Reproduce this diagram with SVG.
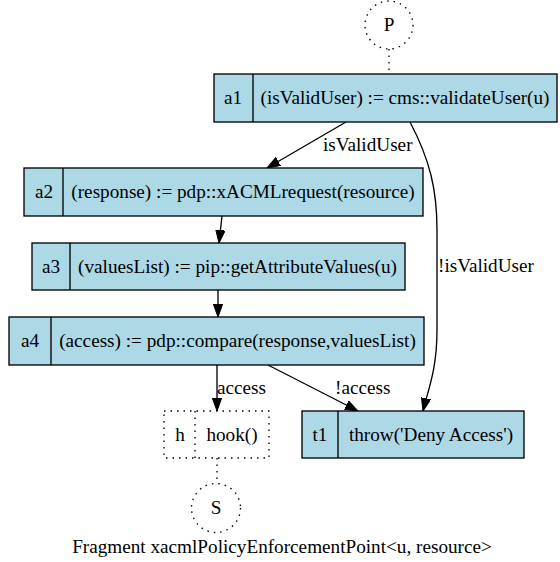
<svg xmlns="http://www.w3.org/2000/svg" width="560" height="562" viewBox="0 0 560 562">
<style>
text{font-family:"Liberation Serif","Times New Roman",serif;font-size:19.2px;fill:#000}
.m{text-anchor:middle}
.box{fill:#add8e6;stroke:#000;stroke-width:1.33}
.dot{fill:none;stroke:#000;stroke-width:1.33;stroke-dasharray:1.5,5}
.e{fill:none;stroke:#000;stroke-width:1.33}
</style>
<defs>
<marker id="ah" markerUnits="userSpaceOnUse" markerWidth="14" markerHeight="10" refX="13" refY="4.7" orient="auto">
<path d="M0,0 L13,4.7 L0,9.4 z" fill="#000" stroke="#000" stroke-width="1"/>
</marker>
</defs>
<g id="connectors">
<line class="dot" x1="389" y1="49" x2="389" y2="74"/>
<line class="dot" x1="217" y1="458" x2="217" y2="483"/>
<line class="e" x1="346" y1="122" x2="267" y2="168" marker-end="url(#ah)"/>
<text x="323" y="151">isValidUser</text>
<path class="e" d="M410,122 C430,160 437,190 437,230 L437,330 C437,370 428,390 423,411" marker-end="url(#ah)"/>
<text x="438" y="272">!isValidUser</text>
<line class="e" x1="222" y1="216" x2="219" y2="243" marker-end="url(#ah)"/>
<line class="e" x1="218" y1="290" x2="218" y2="317" marker-end="url(#ah)"/>
<line class="e" x1="217" y1="365" x2="217" y2="411" marker-end="url(#ah)"/>
<text x="217" y="394">access</text>
<line class="e" x1="268" y1="365" x2="358" y2="411" marker-end="url(#ah)"/>
<text x="335" y="394">!access</text>
</g>
<g id="P">
<circle class="dot" cx="389" cy="25" r="24"/>
<text class="m" x="389" y="31">P</text>
</g>
<g id="a1">
<rect class="box" x="214" y="74" width="343" height="48"/>
<line class="e" x1="253" y1="74" x2="253" y2="122"/>
<text class="m" x="233" y="104">a1</text>
<text class="m" x="405" y="104">(isValidUser) := cms::validateUser(u)</text>
</g>
<g id="a2">
<rect class="box" x="24" y="168" width="399" height="48"/>
<line class="e" x1="63" y1="168" x2="63" y2="216"/>
<text class="m" x="44" y="198">a2</text>
<text class="m" x="243" y="198">(response) := pdp::xACMLrequest(resource)</text>
</g>
<g id="a3">
<rect class="box" x="32" y="243" width="373" height="47"/>
<line class="e" x1="70" y1="243" x2="70" y2="290"/>
<text class="m" x="51" y="273">a3</text>
<text class="m" x="237.5" y="273">(valuesList) := pip::getAttributeValues(u)</text>
</g>
<g id="a4">
<rect class="box" x="9" y="317" width="415" height="48"/>
<line class="e" x1="51" y1="317" x2="51" y2="365"/>
<text class="m" x="30" y="347">a4</text>
<text class="m" x="237.5" y="347">(access) := pdp::compare(response,valuesList)</text>
</g>
<g id="h">
<rect class="dot" x="164" y="411" width="105" height="47"/>
<line class="dot" x1="195" y1="411" x2="195" y2="458"/>
<text class="m" x="180" y="441">h</text>
<text class="m" x="232" y="441">hook()</text>
</g>
<g id="t1">
<rect class="box" x="302" y="411" width="222" height="47"/>
<line class="e" x1="338" y1="411" x2="338" y2="458"/>
<text class="m" x="320" y="441">t1</text>
<text class="m" x="431" y="441">throw('Deny Access')</text>
</g>
<g id="S">
<circle class="dot" cx="216" cy="508" r="24.5"/>
<text class="m" x="216" y="514">S</text>
</g>
<text class="m" x="282" y="553">Fragment xacmlPolicyEnforcementPoint&lt;u, resource&gt;</text>
</svg>
